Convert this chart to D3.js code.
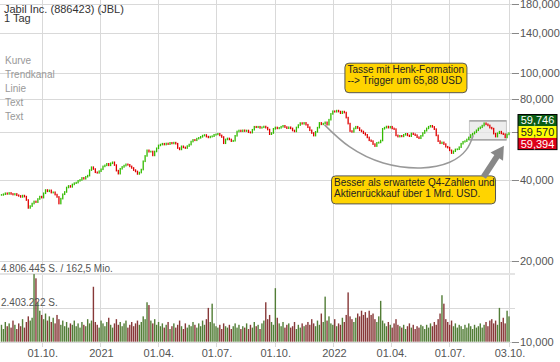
<!DOCTYPE html>
<html>
<head>
<meta charset="utf-8">
<script src="https://cdn.jsdelivr.net/npm/d3@7"></script>
<style>
  body { margin: 0; background: #fff; }
  svg { display: block; font-family: "Liberation Sans", Arial, sans-serif; }
</style>
</head>
<body>
<svg id="chart" width="560" height="362"></svg>
<script>
// one close every 3 calendar days, starting 30.07.2020
const startDate = new Date(2020, 6, 30);
const stepDays = 3;

const closes = [
  35.1, 35.3, 35.6, 35.4, 35.7, 35.4, 35.2, 35.4, 35.0, 34.8,
  34.5, 34.9, 34.6, 33.6, 31.4, 31.9, 32.6, 33.2, 33.0, 33.9,
  34.6, 34.3, 35.6, 36.6, 36.2, 36.5, 35.8, 35.9, 35.2, 34.5,
  32.6, 34.0, 35.3, 36.0, 37.4, 37.9, 37.6, 38.4, 38.8, 39.0,
  39.6, 39.9, 40.6, 40.3, 41.0, 41.4, 43.4, 44.5, 43.8, 42.6,
  42.4, 43.0, 43.7, 44.8, 45.2, 45.8, 45.2, 46.0, 46.4, 45.3,
  43.2, 42.1, 43.9, 44.6, 45.1, 45.6, 45.4, 44.8, 44.2, 43.4,
  42.9, 42.0, 42.5, 43.6, 46.8, 49.0, 51.4, 50.8, 50.9, 49.2,
  50.9, 52.3, 53.6, 54.0, 54.4, 54.0, 54.5, 54.2, 54.8, 54.5,
  54.9, 54.4, 52.4, 51.8, 53.2, 52.7, 52.4, 53.3, 54.0, 55.4,
  56.2, 56.0, 56.8, 57.2, 57.7, 58.3, 58.6, 57.8, 57.4, 57.8,
  58.0, 58.7, 58.9, 59.2, 58.4, 57.6, 54.6, 56.4, 56.9, 56.4,
  55.6, 55.8, 58.2, 60.4, 60.9, 60.5, 61.0, 60.6, 60.9, 60.0,
  59.8, 61.3, 62.9, 62.6, 62.9, 62.3, 62.6, 63.0, 62.4, 61.4,
  59.0, 59.6, 61.8, 62.5, 62.0, 62.3, 62.9, 63.4, 62.7, 62.1,
  62.6, 62.0, 60.9, 60.4, 62.5, 63.8, 64.9, 64.5, 65.0, 64.0,
  62.6, 61.0, 59.6, 58.3, 60.2, 62.4, 65.0, 64.2, 64.6, 65.3,
  64.0, 66.8, 70.2, 71.8, 71.5, 72.2, 71.6, 70.6, 71.6, 71.0,
  68.0, 64.6, 60.6, 60.2, 62.0, 62.9, 62.2, 61.0, 60.4, 59.5,
  58.7, 57.4, 56.0, 55.6, 54.2, 53.3, 54.8, 55.0, 55.9, 61.8,
  62.4, 63.0, 62.4, 62.9, 62.0, 61.6, 58.4, 57.8, 58.2, 57.9,
  58.7, 59.2, 58.4, 58.0, 59.4, 59.0, 58.5, 57.5, 57.0, 58.2,
  59.6, 60.8, 62.0, 62.9, 63.4, 62.8, 61.6, 58.4, 55.6, 54.6,
  55.0, 54.2, 53.0, 52.6, 51.4, 50.2, 51.0, 51.8, 51.9, 52.8,
  54.4, 55.3, 55.6, 56.4, 57.4, 58.6, 59.3, 60.0, 61.0, 62.0,
  62.6, 63.5, 64.8, 64.2, 63.6, 62.4, 61.9, 59.3, 57.8, 59.5,
  60.3, 59.4, 59.0, 57.4, 58.9, 59.57
];

// volume in million shares
const volumes = [
  1.2, 0.9, 1.4, 1.1, 1.3, 1.0, 1.5, 1.2, 0.9, 1.3,
  1.1, 1.6, 1.0, 1.4, 1.8, 1.5, 1.7, 4.8, 4.5, 2.8,
  2.2, 1.9, 1.6, 2.0, 1.5, 1.8, 1.4, 1.7, 1.3, 1.9,
  1.6, 1.2, 1.5, 1.1, 1.4, 1.0, 1.3, 1.2, 1.5, 1.1,
  1.3, 1.0, 1.4, 1.2, 1.1, 1.6, 1.3, 1.5, 3.9, 1.4,
  1.2, 1.0, 1.5, 1.3, 1.1, 1.4, 1.7, 1.2, 1.0, 1.3,
  1.6, 1.2, 1.4, 1.1, 1.3, 1.5, 1.0, 1.2, 1.4, 1.1,
  1.3, 1.5, 1.2, 1.4, 1.8, 1.6, 2.8, 2.6, 1.5, 1.3,
  1.6, 1.2, 1.4, 1.1, 1.3, 1.0, 1.2, 1.4, 0.9, 1.1,
  1.3, 1.0, 1.2, 1.5, 1.1, 0.9, 1.3, 1.0, 1.2, 1.1,
  1.4, 1.2, 1.0, 1.3, 1.1, 1.5, 1.2, 1.6, 2.4, 1.4,
  2.7, 1.3, 1.1, 1.0, 1.2, 0.9, 1.3, 1.1, 1.0, 1.2,
  0.9, 1.1, 1.3, 1.0, 1.2, 0.9, 1.1, 1.0, 1.3, 0.9,
  1.2, 1.0, 1.4, 1.1, 1.2, 0.9, 1.3, 1.5, 2.8, 1.6,
  1.9, 1.4, 1.2, 3.8, 1.7, 1.3, 1.1, 1.4, 1.0, 1.2,
  1.3, 1.0, 1.1, 1.4, 0.9, 1.2, 1.0, 1.3, 1.1, 1.2,
  1.4, 1.2, 1.6, 1.3, 1.1, 1.5, 1.2, 2.0, 1.4, 3.2,
  1.5, 1.8, 1.3, 1.2, 1.6, 1.1, 1.3, 1.2, 1.7, 1.4,
  1.9, 3.5, 1.8, 1.6, 1.4, 1.7, 2.0, 1.8, 2.2, 1.9,
  2.1, 1.7, 2.2, 1.9, 2.0, 1.6, 1.4, 1.8, 2.9, 1.5,
  1.3, 1.1, 1.4, 1.2, 1.0, 1.3, 1.6, 1.2, 1.1, 1.0,
  1.2, 0.9, 1.1, 1.3, 1.0, 1.2, 0.9, 1.1, 1.0, 1.2,
  1.1, 0.9, 1.2, 1.0, 1.3, 1.1, 1.4, 1.2, 1.6, 2.0,
  3.3, 2.7, 1.6, 1.4, 1.2, 1.5, 1.1, 1.3, 1.0, 1.2,
  1.1, 0.9, 1.2, 1.0, 1.3, 1.1, 0.9, 1.2, 1.0, 1.1,
  1.3, 1.0, 1.2, 1.4, 1.1, 1.5, 1.6, 1.3, 1.5, 1.2,
  2.4, 1.4, 1.7, 1.3, 2.2, 1.8
];

const xTickDates = ['2020-10-01', '2021-01-01', '2021-04-01', '2021-07-01', '2021-10-01',
  '2022-01-01', '2022-04-01', '2022-07-01', '2022-10-03'];
const xTickLabels = ['01.10.', '2021', '01.04.', '01.07.', '01.10.', '2022', '01.04.', '01.07.', '03.10.'];
const yTicks = [10, 20, 40, 60, 80, 100, 140, 180];
const volMax = 4.806445;
const volLabels = ['4.806.445 S. / 162,5 Mio.', '2.403.222 S.'];
const priceTags = [59.746, 59.570, 59.394];
const toolList = ['Kurve', 'Trendkanal', 'Linie', 'Text', 'Text'];

// cup drawn by the user, in date / price
const cupDates = ['2021-12-18', '2022-01-26', '2022-03-20', '2022-05-18', '2022-07-02', '2022-07-28', '2022-08-08'];
const cupPrices = [63.9, 53.0, 46.1, 44.2, 46.4, 51.6, 58.4];
// handle range box
const handleDates = ['2022-08-02', '2022-09-29'];
const handlePrices = [66.1, 56.2];
// arrow tail and tip
const arrowDates = ['2022-08-24', '2022-09-25'];
const arrowPrices = [40.9, 53.4];
// callouts: anchor top-left
const notes = [
  {date: '2022-01-19', price: 108.3, w: 122, h: 29.5,
    lines: ['Tasse mit Henk-Formation', '--> Trigger um 65,88 USD']},
  {date: '2021-12-29', price: 41.3, w: 164, h: 28,
    lines: ['Besser als erwartete Q4-Zahlen und', 'Aktienrückkauf über 1 Mrd. USD.']}
];

const parse = d3.timeParse('%Y-%m-%d');
const dates = closes.map((d, i) => d3.timeDay.offset(startDate, i * stepDays));

const svg = d3.select('#chart');
const x = d3.scaleTime().domain([parse('2020-10-01'), parse('2022-10-03')]).range([41.7, 509]);
const y = d3.scaleLog().domain([10, 180]).range([341.7, 3.8]);
const yVol = d3.scaleLinear().domain([0, volMax]).range([341.7, 274]);
const fmt = v => v.toFixed(3).replace('.', ',');
const gridRight = 515;
const crisp = v => Math.round(v) + 0.5;

// grid
svg.append('g').selectAll('line').data(yTicks).join('line')
  .attr('x1', 0).attr('x2', gridRight)
  .attr('y1', d => crisp(y(d))).attr('y2', d => crisp(y(d)))
  .attr('stroke', '#d9d9d9');
svg.append('g').selectAll('line').data(xTickDates).join('line')
  .attr('x1', d => crisp(x(parse(d)))).attr('x2', d => crisp(x(parse(d))))
  .attr('y1', 0).attr('y2', 347)
  .attr('stroke', '#d9d9d9');

// volume pane
svg.append('line').attr('x1', 0).attr('x2', gridRight)
  .attr('y1', yVol(volMax)).attr('y2', yVol(volMax))
  .attr('stroke', '#e4e4e4').attr('stroke-width', 2);
svg.append('line').attr('x1', 0).attr('x2', gridRight)
  .attr('y1', crisp(yVol(volMax / 2))).attr('y2', crisp(yVol(volMax / 2)))
  .attr('stroke', '#d9d9d9');

const isUp = i => closes[i] >= (i === 0 ? closes[0] : closes[i - 1]);

svg.append('g').selectAll('rect').data(volumes).join('rect')
  .attr('x', (d, i) => x(dates[i]) - 0.7)
  .attr('width', 1.4)
  .attr('y', d => yVol(d))
  .attr('height', d => yVol(0) - yVol(d))
  .attr('fill', (d, i) => isUp(i) ? '#527d36' : '#873838');

svg.append('g').selectAll('text').data(volLabels).join('text')
  .attr('x', 1)
  .attr('y', (d, i) => yVol(volMax * (1 - i / 2)) - 2)
  .attr('font-size', 10).attr('fill', '#555')
  .text(d => d);

// handle range box
const hx0 = x(parse(handleDates[0])), hx1 = x(parse(handleDates[1]));
svg.append('rect')
  .attr('x', hx0).attr('width', hx1 - hx0)
  .attr('y', y(handlePrices[0])).attr('height', y(handlePrices[1]) - y(handlePrices[0]))
  .attr('fill', '#e6e6e6').attr('fill-opacity', 0.7)
  .attr('stroke', '#c8c8c8');
svg.append('g').selectAll('line').data(handlePrices).join('line')
  .attr('x1', hx0).attr('x2', hx1)
  .attr('y1', d => y(d)).attr('y2', d => y(d))
  .attr('stroke', '#999').attr('stroke-width', 1.2);

// candles (open = previous close)
svg.append('g').selectAll('rect').data(closes).join('rect')
  .attr('x', (d, i) => x(dates[i]) - 0.65)
  .attr('width', 1.3)
  .attr('y', (d, i) => {
    const o = i === 0 ? d : closes[i - 1];
    return Math.min(y(o), y(d)) - 0.8;
  })
  .attr('height', (d, i) => {
    const o = i === 0 ? d : closes[i - 1];
    return Math.abs(y(o) - y(d)) + 1.6;
  })
  .attr('fill', (d, i) => isUp(i) ? '#33bb00' : '#e00000');

// cup curve
svg.append('path')
  .datum(cupDates.map((d, i) => [x(parse(d)), y(cupPrices[i])]))
  .attr('d', d3.line().curve(d3.curveNatural))
  .attr('fill', 'none').attr('stroke', '#999').attr('stroke-width', 1.5);

// callouts
notes.forEach(n => {
  const g = svg.append('g')
    .attr('transform', `translate(${x(parse(n.date))},${y(n.price)})`);
  g.append('rect').attr('width', n.w).attr('height', n.h)
    .attr('rx', 4).attr('fill', '#ffd400').attr('stroke', '#555');
  g.selectAll('text').data(n.lines).join('text')
    .attr('x', 2.5).attr('y', (d, i) => 10 + i * 11)
    .attr('font-size', 10).attr('fill', '#222')
    .text(d => d);
});

// arrow
const tail = [x(parse(arrowDates[0])), y(arrowPrices[0])];
const tip = [x(parse(arrowDates[1])), y(arrowPrices[1])];
const len = Math.hypot(tip[0] - tail[0], tip[1] - tail[1]);
const ux = (tip[0] - tail[0]) / len, uy = (tip[1] - tail[1]) / len;
const base = [tip[0] - ux * 13, tip[1] - uy * 13];
svg.append('line')
  .attr('x1', tail[0]).attr('y1', tail[1])
  .attr('x2', base[0] + ux * 2).attr('y2', base[1] + uy * 2)
  .attr('stroke', '#888').attr('stroke-width', 6);
svg.append('path')
  .attr('d', `M${tip[0]},${tip[1]}L${base[0] - uy * 7.5},${base[1] + ux * 7.5}L${base[0] + uy * 7.5},${base[1] - ux * 7.5}Z`)
  .attr('fill', '#888');

// right axis
const ax = svg.append('g');
ax.selectAll('line').data(yTicks).join('line')
  .attr('x1', 512).attr('x2', 519)
  .attr('y1', d => crisp(y(d))).attr('y2', d => crisp(y(d)))
  .attr('stroke', '#888');
ax.selectAll('text').data(yTicks).join('text')
  .attr('x', 520).attr('y', d => y(d) + 4)
  .attr('font-size', 11).attr('fill', '#555')
  .text(d => fmt(d));

// bottom axis labels
svg.append('g').selectAll('text').data(xTickDates).join('text')
  .attr('x', d => x(parse(d)) + 1)
  .attr('y', 357)
  .attr('text-anchor', 'middle')
  .attr('font-size', 11).attr('fill', '#555')
  .text((d, i) => xTickLabels[i]);

// price tags
const tagColors = [['#0b5e14', '#fff'], ['#ffff00', '#222'], ['#dd0019', '#fff']];
const tagH = 11.7;
const tagTop = y(priceTags[1]) - 1 - tagH * 1.5;
const tags = svg.append('g').attr('transform', `translate(518,${tagTop})`);
tags.selectAll('rect').data(priceTags).join('rect')
  .attr('x', 0).attr('y', (d, i) => i * tagH)
  .attr('width', 39).attr('height', tagH)
  .attr('fill', (d, i) => tagColors[i][0]);
tags.append('rect').attr('x', 0).attr('y', 0).attr('width', 39).attr('height', tagH * 3)
  .attr('fill', 'none').attr('stroke', '#000');
tags.selectAll('text').data(priceTags).join('text')
  .attr('x', 19.5).attr('y', (d, i) => i * tagH + 9.7)
  .attr('text-anchor', 'middle')
  .attr('font-size', 11).attr('fill', (d, i) => tagColors[i][1])
  .text(d => fmt(d));

// header
svg.append('text').attr('x', 4).attr('y', 12.5).attr('font-size', 11).attr('fill', '#333')
  .text('Jabil Inc. (886423) (JBL)');
svg.append('text').attr('x', 4).attr('y', 22).attr('font-size', 11).attr('fill', '#333')
  .text('1 Tag');
svg.append('g').selectAll('text').data(toolList).join('text')
  .attr('x', 5).attr('y', (d, i) => 64 + i * 14)
  .attr('font-size', 10).attr('fill', '#999')
  .text(d => d);
</script>
</body>
</html>
